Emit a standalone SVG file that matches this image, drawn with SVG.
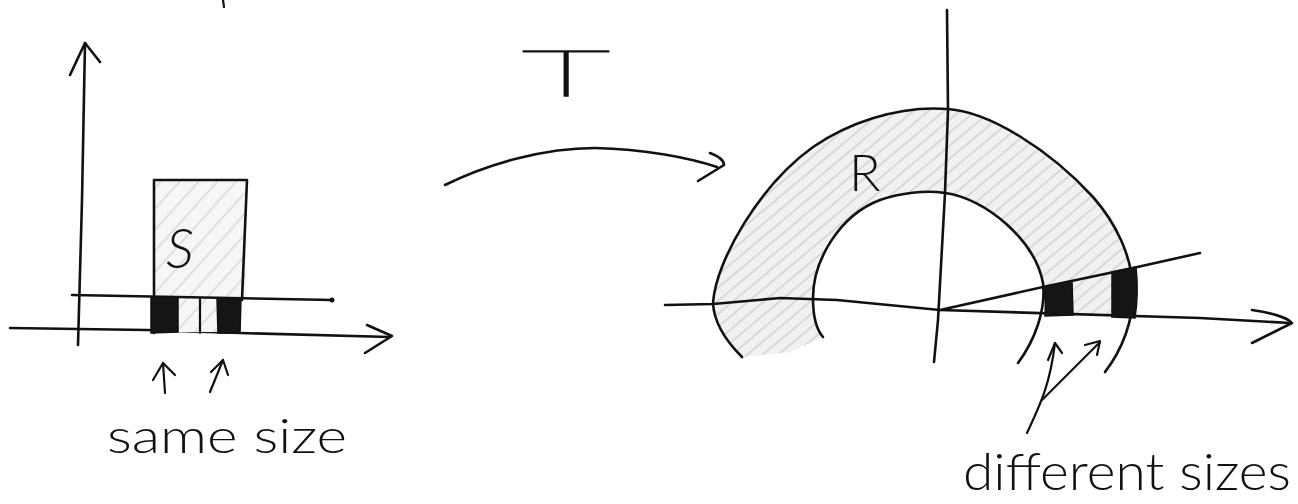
<svg xmlns="http://www.w3.org/2000/svg" width="1298" height="504" viewBox="0 0 1298 504">
<style>
.ln{fill:none;stroke:#111;stroke-width:2.6;stroke-linecap:round;stroke-linejoin:round}
.thin{fill:none;stroke:#111;stroke-width:2.2;stroke-linecap:round;stroke-linejoin:round}
.blk{fill:#151515;stroke:#111;stroke-width:1.5}
.hand{font-family:Lato,"Liberation Sans",sans-serif;font-weight:300;fill:#111}
</style>
<defs>
<pattern id="hatch" width="10" height="10" patternUnits="userSpaceOnUse" patternTransform="rotate(-40)">
<rect width="10" height="10" fill="#f1f1f1"/>
<line x1="0" y1="2" x2="10" y2="2" stroke="#c2c2c2" stroke-width="1"/>
</pattern>
<pattern id="hatchS" width="14" height="14" patternUnits="userSpaceOnUse" patternTransform="rotate(-48)">
<rect width="14" height="14" fill="#f6f6f6"/>
<line x1="0" y1="3" x2="14" y2="3" stroke="#c8c8c8" stroke-width="1"/>
</pattern>
</defs>
<rect width="1298" height="504" fill="#fff"/>

<path class="thin" d="M223,0 L224,7"/>

<g id="node-S">
<path class="ln" d="M78,345 L82,200 L85,43"/>
<path class="ln" d="M70,75 L85,43 L100,62"/>
<path class="ln" d="M10,328 L147,330 L240,333 L390,337"/>
<path class="ln" d="M367,325 L392,336 L365,353"/>
<rect x="154" y="180" width="92" height="118" fill="url(#hatchS)" stroke="none"/>
<rect x="178" y="298" width="39" height="34" fill="url(#hatchS)" stroke="none"/>
<path class="ln" d="M154,333 L154,180 L247,180 L242,300"/>
<path class="blk" d="M151,297 L178,297 L178,332 L151,333 Z"/>
<path class="blk" d="M217,298 L241,299 L240,333 L218,333 Z"/>
<path class="thin" d="M200,299 L200,333"/>
<path class="ln" d="M72,295 L332,300"/>
<circle cx="332" cy="300" r="2.5" fill="#111"/>
<text class="hand" x="166" y="268" font-size="56" font-style="italic">S</text>
</g>

<g id="node-R">
<path fill="url(#hatch)" stroke="none" d="M713,303 C716,260 760,185 813,147 C845,125 895,105 948,109 C990,112 1050,150 1093,197 C1115,222 1132,255 1133,290 L1135,317 L1043,314 L1043,283 C1035,240 985,198 945,193 C925,190 900,193 880,200 C840,215 813,260 813,298 Z"/>
<path fill="url(#hatch)" stroke="none" d="M713,303 C714,325 730,345 742,357 L790,352 L823,337 C815,328 813,315 813,298 Z"/>
<path class="ln" d="M742,357 C730,345 714,325 713,303 C716,260 760,185 813,147 C845,125 895,105 948,109 C990,112 1050,150 1093,197 C1115,222 1132,255 1133,290 C1134,320 1122,350 1105,372"/>
<path class="ln" d="M823,337 C815,328 813,315 813,298 C813,260 840,215 880,200 C900,193 925,190 945,193 C985,198 1035,240 1043,283 C1046,310 1035,340 1018,363"/>
<path class="ln" d="M947,10 L948,110 L945,193 L938,320 L934,362"/>
<path class="ln" d="M665,305 L713,304 L780,298 L837,300 L940,310 L1200,318 L1290,323"/>
<path class="ln" d="M1252,310 C1272,313 1288,318 1292,323 L1252,343"/>
<path class="ln" d="M940,310 L1043,287 L1133,268 L1200,253"/>
<path class="blk" d="M1043,287 L1072,281 L1073,315 L1045,316 C1046,305 1045,295 1043,287 Z"/>
<path class="blk" d="M1112,272 L1136,267 C1138,285 1137,305 1135,318 L1112,317 Z"/>
<text class="hand" x="849" y="191" font-size="52">R</text>
</g>

<g id="connectors">
<path class="ln" d="M445,185 C490,163 545,148 595,148 C645,149 690,158 717,167"/>
<path class="ln" d="M710,153 C718,156 724,160 724,165 L698,181"/>
<path class="thin" d="M165,393 L163,363"/>
<path class="thin" d="M153,380 L163,363 L175,375"/>
<path class="thin" d="M210,392 L223,360"/>
<path class="thin" d="M211,372 L223,360 L228,375"/>
<path class="thin" d="M1027,433 C1040,405 1050,385 1055,343"/>
<path class="thin" d="M1048,360 L1055,343 L1062,353"/>
<path class="thin" d="M1042,400 L1100,342"/>
<path class="thin" d="M1085,345 L1100,341 L1097,355"/>
</g>

<g id="labels">
<text class="hand" x="522" y="96" font-size="64" style="font-weight:100" stroke="#111" stroke-width="1.4" textLength="88" lengthAdjust="spacingAndGlyphs">T</text>
<text class="hand" x="107" y="453" font-size="48" textLength="240" lengthAdjust="spacingAndGlyphs">same size</text>
<text class="hand" x="963" y="490" font-size="52" textLength="328" lengthAdjust="spacingAndGlyphs">different sizes</text>
</g>
</svg>
